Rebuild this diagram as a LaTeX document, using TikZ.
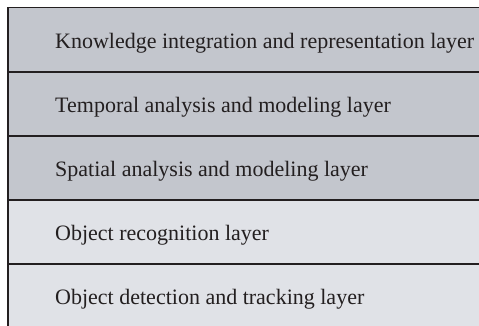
\documentclass[tikz,border=0pt]{standalone}
\usepackage{fontspec}
\setmainfont{Liberation Serif}
\definecolor{darkband}{RGB}{195,198,205}
\definecolor{lightband}{RGB}{224,226,231}
\definecolor{rule}{RGB}{35,31,32}
\tikzset{
  band/.style={anchor=north west, minimum width=471pt, minimum height=64pt, inner sep=0pt, draw=none},
  lbl/.style={anchor=base west, inner sep=0pt, text=rule, font=\fontsize{22}{26}\selectfont},
  sep/.style={draw=rule, line width=1.2pt}
}
\begin{document}
\begin{tikzpicture}[x=1pt,y=-1pt]
\useasboundingbox (0,0) rectangle (479,325);
\fill[white] (0,0) rectangle (479,325);
\node[band, fill=darkband] (b1) at (8,7.5) {};
\node[band, fill=darkband] (b2) at (8,71.5) {};
\node[band, fill=darkband] (b3) at (8,135.5) {};
\node[band, fill=lightband] (b4) at (8,199.5) {};
\node[band, fill=lightband] (b5) at (8,263.5) {};
\node[lbl] (t1) at ([xshift=47pt,yshift=-9pt]b1.west) {Knowledge integration and representation layer};
\node[lbl] (t2) at ([xshift=47pt,yshift=-9pt]b2.west) {Temporal analysis and modeling layer};
\node[lbl] (t3) at ([xshift=47pt,yshift=-9pt]b3.west) {Spatial analysis and modeling layer};
\node[lbl] (t4) at ([xshift=47pt,yshift=-9pt]b4.west) {Object recognition layer};
\node[lbl] (t5) at ([xshift=47pt,yshift=-9pt]b5.west) {Object detection and tracking layer};
\draw[sep] (b1.north east) -- (b1.north west) -- (b5.south west);
\draw[sep] (b1.south west) -- (b1.south east);
\draw[sep] (b2.south west) -- (b2.south east);
\draw[sep] (b3.south west) -- (b3.south east);
\draw[sep] (b4.south west) -- (b4.south east);
\end{tikzpicture}
\end{document}
